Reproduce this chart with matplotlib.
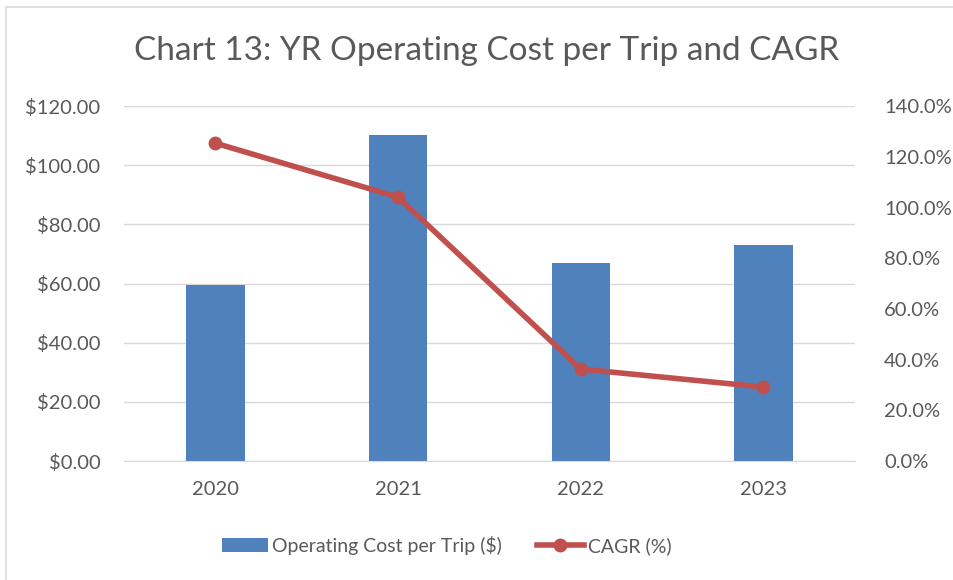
import matplotlib.pyplot as plt
import numpy as np
from matplotlib.patches import Rectangle
from matplotlib.ticker import FuncFormatter

plt.rcParams['font.family'] = ['Lato', 'DejaVu Sans']

years = ['2020', '2021', '2022', '2023']
cost_per_trip = [59.5, 110.2, 66.9, 73.0]
cagr = [125.4, 104.1, 36.3, 29.2]

bar_color = '#4F81BD'
line_color = '#C0504D'
text_color = '#595959'

fig = plt.figure(figsize=(9.54, 5.8), dpi=100)
fig.patches.append(Rectangle((0.006, -0.01), 1.0, 0.998, transform=fig.transFigure,
                             fill=False, edgecolor='#D9D9D9', linewidth=1.2))

ax = fig.add_axes([0.130, 0.205, 0.766, 0.612])
x = np.arange(len(years))
bars = ax.bar(x, cost_per_trip, width=0.32, color=bar_color, zorder=2,
              label='Operating Cost per Trip ($)')
ax.set_xlim(-0.5, 3.5)
ax.set_ylim(0, 120)
ax.set_yticks(np.arange(0, 121, 20))
ax.yaxis.set_major_formatter(FuncFormatter(lambda v, p: f'${v:.2f}'))
ax.set_xticks(x)
ax.set_xticklabels(years)
ax.grid(axis='y', color='#D9D9D9', linewidth=1, zorder=0)
for s in ['top', 'right', 'left']:
    ax.spines[s].set_visible(False)
ax.spines['bottom'].set_color('#D9D9D9')
ax.tick_params(length=0, labelsize=14.5, colors=text_color)
ax.tick_params(axis='y', pad=17)
ax.tick_params(axis='x', pad=14)

ax2 = ax.twinx()
line, = ax2.plot(x, cagr, color=line_color, linewidth=4, marker='o', markersize=9,
                 label='CAGR (%)', zorder=3)
ax2.set_ylim(0, 140)
ax2.set_yticks(np.arange(0, 141, 20))
ax2.yaxis.set_major_formatter(FuncFormatter(lambda v, p: f'{v:.1f}%'))
for s in ax2.spines.values():
    s.set_visible(False)
ax2.tick_params(length=0, labelsize=14.5, colors=text_color, pad=21)

fig.text(0.51, 0.912, 'Chart 13: YR Operating Cost per Trip and CAGR',
         ha='center', va='center', fontsize=24, color=text_color)

fig.legend(handles=[bars, line], loc='center', bbox_to_anchor=(0.468, 0.06), ncol=2,
           frameon=False, fontsize=14, labelcolor=text_color, handlelength=2.4,
           handletextpad=0.2, columnspacing=1.8)

fig.savefig('out.png', dpi=100)
